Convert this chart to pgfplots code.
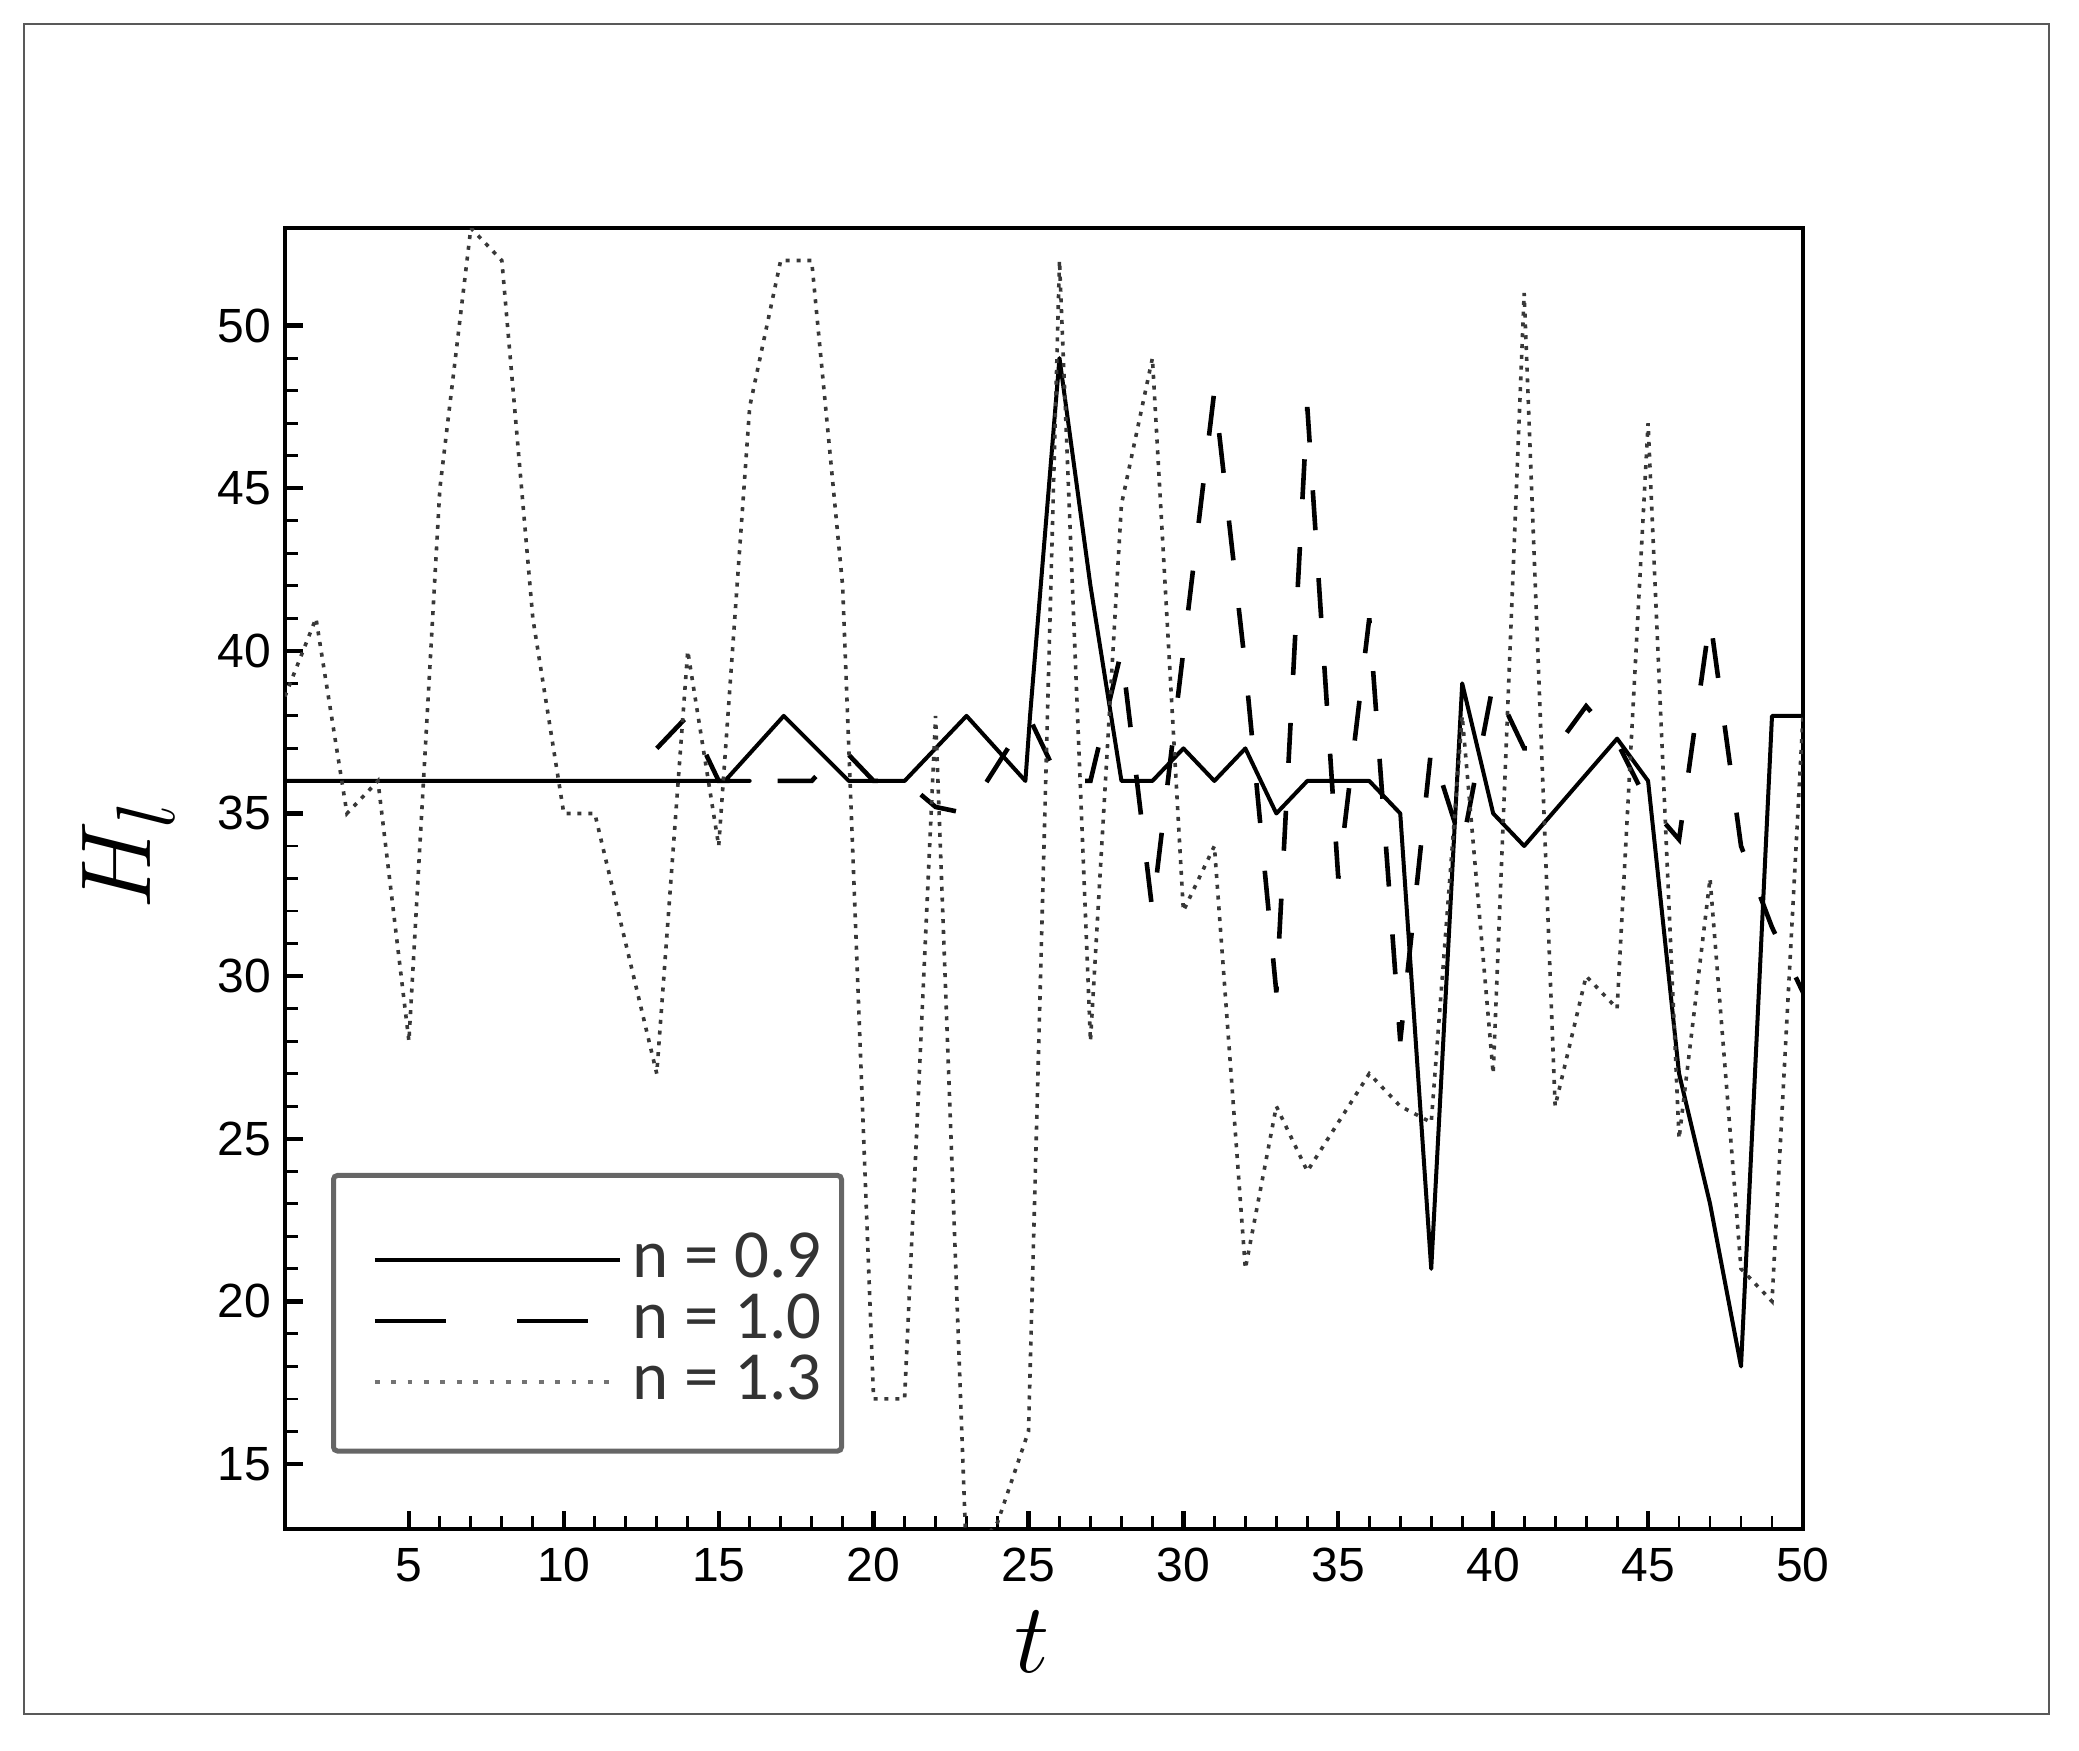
\documentclass[border=0pt]{standalone}
\usepackage{fontspec}
\setmainfont{Liberation Sans}
\newfontfamily\carlito{Carlito}
\usepackage{pgfplots}
\pgfplotsset{compat=1.18}

\begin{document}
\begin{tikzpicture}
\path[use as bounding box] (0,0) rectangle (519.75pt,437.5pt);
\draw[black!65, line width=0.5pt] (6pt,9pt) rectangle (512.25pt,431.5pt);
\begin{axis}[
  at={(71.25pt,55.25pt)}, anchor=south west,
  scale only axis, width=379.5pt, height=325.25pt,
  xmin=1, xmax=50, ymin=13, ymax=53,
  xtick={5,10,...,50}, ytick={15,20,...,50},
  minor x tick num=4, minor y tick num=4,
  tick pos=left, tick align=inside,
  major tick length=4.5pt, minor tick length=3.2pt,
  major tick style={line width=1.1pt, black},
  minor tick style={line width=0.7pt, black},
  axis line style={line width=1.1pt},
  /pgf/number format/assume math mode=true,
  ticklabel style={font=\fontsize{12}{12}\selectfont},
  xticklabel style={yshift=-1.3pt},
  xlabel={\fontsize{28}{28}\selectfont$t$},
  ylabel={\fontsize{28}{28}\selectfont$H_l$},
  xlabel style={at={(axis description cs:0.492,-0.087)}, anchor=center},
  ylabel style={at={(axis description cs:-0.103,0.518)}, anchor=center, rotate=0},
  legend cell align=left,
  legend style={at={(axis description cs:0.0303,0.058)}, anchor=south west,
    draw=black!60, line width=1.25pt, rounded corners=1pt,
    inner xsep=5pt, inner ysep=13pt,
    font=\carlito\fontsize{17.2}{17.2}\selectfont, text=black!80,
    nodes={inner sep=0pt, text height=12.4pt, text depth=0pt},
    row sep=2.85pt, column sep=2.7pt},
]
\addplot[black, line width=1.0pt, line join=round,
  legend image code/.code={\path (0pt,0pt); \draw[black, line width=1.1pt] (4.75pt,-1.9pt) -- (66pt,-1.9pt);}]
  coordinates {
  (1,36) (16,36) (15.2,36) (17.1,38) (19.2,36) (21,36) (23,38) (24.9,36) (25.05,38)
  (26,49) (27,42) (28,36) (29,36) (30,37) (31,36) (32,37) (33,35) (34,36) (36,36)
  (37,35) (38,21) (39,39) (40,35) (41,34) (44,37.3) (45,36) (46,27) (47,23) (48,18)
  (49,38) (50,38)
  };
\addlegendentry{n = 0.9}
\addplot[black, line width=1.15pt, dash pattern=on 10pt off 12pt,
  legend image code/.code={\path (0pt,0pt) (66pt,0pt); \draw[black, line width=1.1pt, dash pattern=on 17.8pt off 17.8pt] (4.75pt,-1.9pt) -- (58.15pt,-1.9pt);}]
  coordinates {
  (13,37) (14,38) (15,36) (16,36) (17,36) (18,36) (19,37) (20,36) (21,36) (22,35.2)
  (23,35) (24,36.5) (25,38) (26,36) (27,36) (28,40) (29,32) (30,40) (31,48) (32,39.5)
  (33,29.5) (34,47.5) (35,33) (36,41) (37,28) (38,37) (39,34) (40,39) (41,37) (42,37)
  (43,38.3) (44,37.2) (45,35.3) (46,34.2) (47,41) (48,34) (49,31.5) (50,29.5)
  };
\addlegendentry{n = 1.0}
\addplot[black!78, line width=0.9pt, dash pattern=on 1pt off 1.7pt,
  legend image code/.code={\path (0pt,0pt) (66pt,0pt); \draw[black!55, line width=1pt, dash pattern=on 1.2pt off 2.9pt] (4.75pt,-1.9pt) -- (63.75pt,-1.9pt);}]
  coordinates {
  (1,38.6) (2,41) (3,35) (4,36) (5,28) (6,45) (7,53) (8,52) (9,41) (10,35) (11,35)
  (12,31) (13,27) (14,40) (15,34) (16,47.5) (17,52) (18,52) (19,42) (20,17) (21,17)
  (22,38) (23,12) (24,13.2) (25,16) (26,52) (27,28) (28,44.5) (29,49) (30,32) (31,34)
  (32,21) (33,26) (34,24) (35,25.5) (36,27) (37,26) (38,25.5) (39,38) (40,27) (41,51)
  (42,26) (43,30) (44,29) (45,47) (46,25) (47,33) (48,21) (49,20) (50,38)
  };
\addlegendentry{n = 1.3}
\end{axis}
\end{tikzpicture}
\end{document}
